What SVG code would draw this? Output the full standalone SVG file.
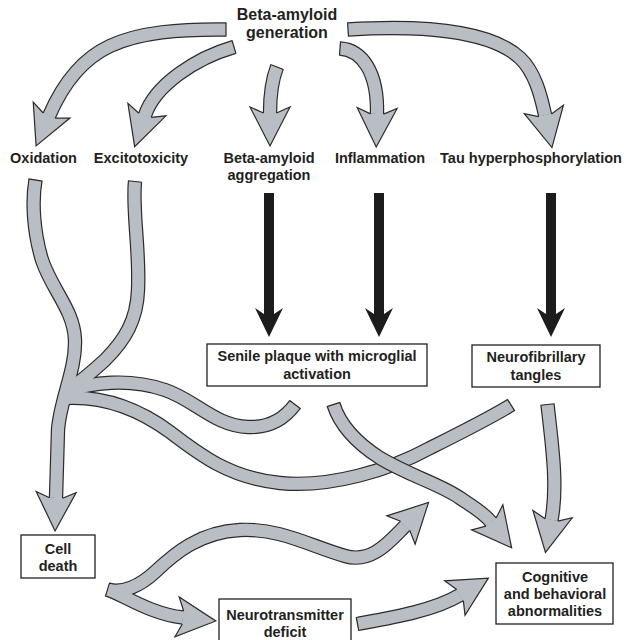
<svg xmlns="http://www.w3.org/2000/svg" width="632" height="640" viewBox="0 0 632 640">
<style>
.t{font-family:"Liberation Sans",Arial,sans-serif;font-weight:bold;font-size:14.5px;fill:#231f20;text-anchor:middle}
.ttl{font-size:16px}
.box{fill:#fff;stroke:#231f20;stroke-width:1.3}
.ol{fill:none;stroke:#2b2b2b;stroke-width:14.4}
.fl{fill:none;stroke:#b9bdc4;stroke-width:12}
.cap{stroke:#2b2b2b;stroke-width:1.2}
.head{fill:#b9bdc4;stroke:#2b2b2b;stroke-width:1.2}
.blk{fill:#1c1c1c}
</style>
<defs>
<marker id="hd" markerUnits="userSpaceOnUse" orient="auto" refX="0" refY="0" markerWidth="80" markerHeight="80" overflow="visible">
<path class="head" d="M0,-6.5 L-6,-20 L33,0 L-6,20 L0,6.5"/>
</marker>
<path id="blkArrow" class="blk" d="M-5,193 L5,193 L5,314 L14,308 L0,337 L-14,308 L-5,314 Z"/>
</defs>

<g id="connectors">
<!-- top arrows from Beta-amyloid generation -->
<g id="c-top">
<path class="ol" d="M226,29.5 C180,29 140,32 110,46 C82,59 62,86 49.2,115.6"/>
<path class="fl" marker-end="url(#hd)" d="M226,29.5 C180,29 140,32 110,46 C82,59 62,86 49.2,115.6"/>
<line class="cap" x1="226" y1="22.5" x2="226" y2="36.5"/>

<path class="ol" d="M234,47 C196,58 155,85 145,115.3"/>
<path class="fl" marker-end="url(#hd)" d="M234,47 C196,58 155,85 145,115.3"/>
<line class="cap" x1="232.05" y1="40.3" x2="235.95" y2="53.7"/>

<path class="ol" d="M277,67 C272,80 270,95 270,113"/>
<path class="fl" marker-end="url(#hd)" d="M277,67 C272,80 270,95 270,113"/>
<line class="cap" x1="270.5" y1="64.5" x2="283.5" y2="69.5"/>

<path class="ol" d="M340,48.5 C362,50 378,72 377,114"/>
<path class="fl" marker-end="url(#hd)" d="M340,48.5 C362,50 378,72 377,114"/>
<line class="cap" x1="340.5" y1="41.5" x2="339.5" y2="55.5"/>

<path class="ol" d="M348,29.5 C420,25 490,30 520,58 C535,72 541,96 545.1,115.3"/>
<path class="fl" marker-end="url(#hd)" d="M348,29.5 C420,25 490,30 520,58 C535,72 541,96 545.1,115.3"/>
<line class="cap" x1="347.57" y1="22.5" x2="348.43" y2="36.5"/>
</g>

<!-- black arrows -->
<g id="c-black">
<use href="#blkArrow" x="269"/>
<use href="#blkArrow" x="379"/>
<use href="#blkArrow" x="551"/>
</g>

<!-- left system: oxidation + excitotoxicity merging, branches -->
<g id="c-left">
<path class="ol" d="M35.5,180 C32,200 33,230 42,260 C52,290 74,310 75,340 C76,370 60,400 58,430 L56,498"/>
<path class="ol" d="M135,181.5 C132,210 140,250 138,290 C137,320 125,340 105,360 C92,372 80,382 66,392"/>
<path class="ol" d="M66,392 C90,382 130,378 165,390 C195,400 215,426 248,427 C270,428 285,418 295,404.5"/>
<path class="ol" d="M66,398 C105,396 140,410 170,432 C200,455 230,478 280,483 C330,488 390,470 430,448 C470,428 495,415 511,405"/>
<path class="fl" d="M135,181.5 C132,210 140,250 138,290 C137,320 125,340 105,360 C92,372 80,382 66,392"/>
<path class="fl" d="M66,392 C90,382 130,378 165,390 C195,400 215,426 248,427 C270,428 285,418 295,404.5"/>
<path class="fl" d="M66,398 C105,396 140,410 170,432 C200,455 230,478 280,483 C330,488 390,470 430,448 C470,428 495,415 511,405"/>
<path class="fl" marker-end="url(#hd)" d="M35.5,180 C32,200 33,230 42,260 C52,290 74,310 75,340 C76,370 60,400 58,430 L56,498"/>
<line class="cap" x1="28.6" y1="178.8" x2="42.4" y2="181.2"/>
<line class="cap" x1="128.04" y1="180.77" x2="141.96" y2="182.23"/>
<line class="cap" x1="289.37" y1="400.33" x2="300.63" y2="408.67"/>
<line class="cap" x1="507.29" y1="399.06" x2="514.71" y2="410.94"/>
</g>

<!-- from senile plaque -->
<g id="c-plaque">
<path class="ol" d="M333.5,404.5 C340,425 355,442 380,458 C410,476 440,484 460,498 C470,505 483,512 491,522"/>
<path class="fl" marker-end="url(#hd)" d="M333.5,404.5 C340,425 355,442 380,458 C410,476 440,484 460,498 C470,505 483,512 491,522"/>
<line class="cap" x1="326.83" y1="406.61" x2="340.17" y2="402.39"/>
</g>

<!-- from neurofibrillary tangles -->
<g id="c-tangles">
<path class="ol" d="M547.5,404.5 C552,445 558,485 551.5,520"/>
<path class="fl" marker-end="url(#hd)" d="M547.5,404.5 C552,445 558,485 551.5,520"/>
<line class="cap" x1="540.54" y1="405.27" x2="554.46" y2="403.73"/>
</g>

<!-- from cell death -->
<g id="c-celldeath">
<path class="ol" d="M107.5,589.5 C122,594 140,586 155,572 C175,553 200,532 240,530 C280,528 310,546 345,556 C372,564 390,541 405.2,525.8"/>
<path class="ol" d="M107.5,589.5 C122,594 150,614 183,617.5"/>
<path class="fl" marker-end="url(#hd)" d="M107.5,589.5 C122,594 140,586 155,572 C175,553 200,532 240,530 C280,528 310,546 345,556 C372,564 390,541 405.2,525.8"/>
<path class="fl" marker-end="url(#hd)" d="M107.5,589.5 C122,594 150,614 183,617.5"/>
<line class="cap" x1="105.43" y1="596.19" x2="109.57" y2="582.81"/>
</g>

<!-- from neurotransmitter deficit -->
<g id="c-neurotrans">
<path class="ol" d="M357.5,624 C390,618 433,611 460,595"/>
<path class="fl" marker-end="url(#hd)" d="M357.5,624 C390,618 433,611 460,595"/>
<line class="cap" x1="356.23" y1="617.12" x2="358.77" y2="630.88"/>
</g>
</g>

<g id="n-generation">
<text class="t ttl" x="287" y="20">Beta-amyloid</text>
<text class="t ttl" x="287" y="38">generation</text>
</g>
<g id="n-oxidation"><text class="t" x="43.5" y="163">Oxidation</text></g>
<g id="n-excitotoxicity"><text class="t" x="141" y="163">Excitotoxicity</text></g>
<g id="n-aggregation">
<text class="t" x="269" y="163">Beta-amyloid</text>
<text class="t" x="269" y="180">aggregation</text>
</g>
<g id="n-inflammation"><text class="t" x="380" y="163">Inflammation</text></g>
<g id="n-tau"><text class="t" x="531" y="163">Tau hyperphosphorylation</text></g>

<g id="n-plaque">
<rect class="box" x="207" y="344" width="220" height="42"/>
<text class="t" x="317" y="361">Senile plaque with microglial</text>
<text class="t" x="317" y="379">activation</text>
</g>
<g id="n-tangles">
<rect class="box" x="472" y="345" width="128" height="42"/>
<text class="t" x="536" y="362">Neurofibrillary</text>
<text class="t" x="536" y="380">tangles</text>
</g>
<g id="n-celldeath">
<rect class="box" x="21" y="535" width="74" height="43"/>
<text class="t" x="58" y="554">Cell</text>
<text class="t" x="58" y="571">death</text>
</g>
<g id="n-neurotrans">
<rect class="box" x="219" y="599" width="132" height="50"/>
<text class="t" x="285" y="620">Neurotransmitter</text>
<text class="t" x="285" y="637">deficit</text>
</g>
<g id="n-cognitive">
<rect class="box" x="496" y="563" width="117" height="61"/>
<text class="t" x="555" y="581.5">Cognitive</text>
<text class="t" x="555" y="599">and behavioral</text>
<text class="t" x="555" y="616">abnormalities</text>
</g>
</svg>
